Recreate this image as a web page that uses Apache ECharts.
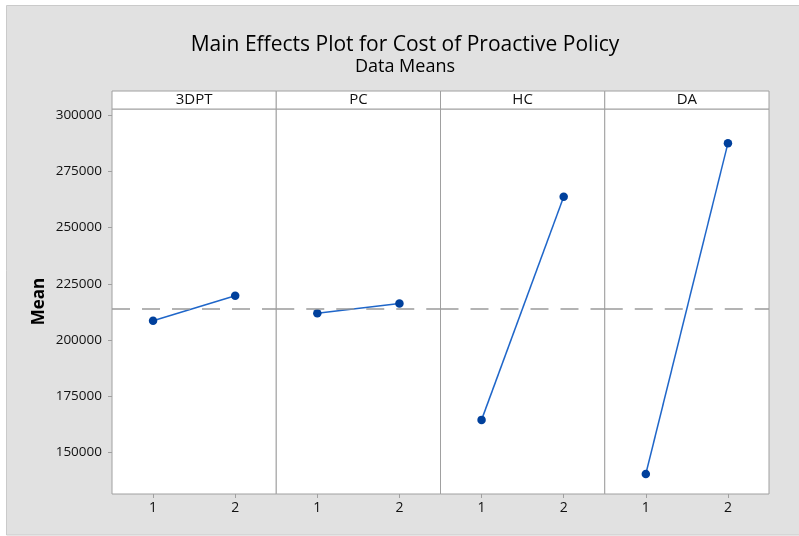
<!DOCTYPE html>
<html><head><meta charset="utf-8">
<script src="https://cdn.jsdelivr.net/npm/echarts@6/dist/echarts.min.js"></script>
<style>html,body{margin:0;padding:0;background:#fff}#c{width:799px;height:536px}</style>
</head><body><div id="c"></div>
<script>
// ---- data ----
const factors = ['3DPT', 'PC', 'HC', 'DA'];
const levels = ['1', '2'];
const means3DPT = [208500, 219700];
const meansPC = [211900, 216200];
const meansHC = [164400, 263700];
const meansDA = [140300, 287600];
const grandMean = 214000;
const yTickValues = [150000, 175000, 200000, 225000, 250000, 275000, 300000];
const yMin = 131400, yMax = 302800;
const titleText = 'Main Effects Plot for Cost of Proactive Policy';
const subtitleText = 'Data Means';
const yName = 'Mean';

// ---- layout ----
const seriesData = [means3DPT, meansPC, meansHC, meansDA];
const W = 799, H = 536;
const plotL = 112, plotR = 769, plotT = 109, plotB = 494;
const stripH = 18;
const pw = (plotR - plotL) / factors.length;
const FONT = 'Open Sans';
const frame = '#a0a0a0';

const grids = [], xAxes = [], yAxes = [], series = [], graphics = [];
graphics.push({type: 'rect', z: -100, shape: {x: 6.5, y: 5.5, width: W - 6, height: H - 6.5},
  style: {fill: '#e1e1e1', stroke: '#cacaca', lineWidth: 1}});

factors.forEach((f, i) => {
  const left = plotL + i * pw;
  grids.push({left: left, top: plotT, width: pw, height: plotB - plotT, show: true,
    backgroundColor: '#fff', borderColor: frame, borderWidth: 1, containLabel: false});
  xAxes.push({type: 'category', gridIndex: i, data: levels, boundaryGap: true,
    axisLine: {show: false},
    axisTick: {show: true, alignWithLabel: true, length: 4, lineStyle: {color: frame}},
    axisLabel: {color: '#111', fontFamily: FONT, fontSize: 14, margin: 7},
    splitLine: {show: false}});
  yAxes.push({type: 'value', gridIndex: i, min: yMin, max: yMax,
    show: i === 0,
    name: i === 0 ? yName : '', nameLocation: 'middle', nameGap: 64,
    nameTextStyle: {fontFamily: FONT, fontSize: 17, fontWeight: 'bold', color: '#000'},
    axisLine: {show: false},
    axisTick: {show: true, length: 4, customValues: yTickValues, lineStyle: {color: frame}},
    axisLabel: {show: true, customValues: yTickValues, color: '#111', fontFamily: FONT, fontSize: 13.5, margin: 10,
      formatter: v => String(v)},
    splitLine: {show: false}});
  series.push({type: 'line', xAxisIndex: i, yAxisIndex: i, data: seriesData[i],
    symbol: 'circle', symbolSize: 8.5, itemStyle: {color: '#00409c'},
    lineStyle: {color: '#1f66c9', width: 1.5}, silent: true, animation: false,
    markLine: {silent: true, symbol: 'none', label: {show: false},
      lineStyle: {color: '#9a9a9a', type: [18, 12], width: 1.5},
      data: [{yAxis: grandMean}]}});
  graphics.push({type: 'rect', shape: {x: left, y: plotT - stripH, width: pw, height: stripH},
    style: {fill: '#fff', stroke: frame, lineWidth: 1}});
  graphics.push({type: 'text', x: left + pw / 2, y: plotT - stripH / 2,
    style: {text: f, fontFamily: FONT, fontSize: 15, fill: '#111', align: 'center', verticalAlign: 'middle'}});
});

const chart = echarts.init(document.getElementById('c'), null, {renderer: 'canvas'});
chart.setOption({
  animation: false,
  backgroundColor: '#fff',
  title: [
    {text: titleText, left: 400, top: 30, textAlign: 'center',
      textStyle: {fontFamily: FONT, fontSize: 21, fontWeight: 'normal', color: '#000'}},
    {text: subtitleText, left: 400, top: 53, textAlign: 'center',
      textStyle: {fontFamily: FONT, fontSize: 18, fontWeight: 'normal', color: '#000'}}
  ],
  grid: grids, xAxis: xAxes, yAxis: yAxes, series: series, graphic: graphics
});
</script></body></html>
